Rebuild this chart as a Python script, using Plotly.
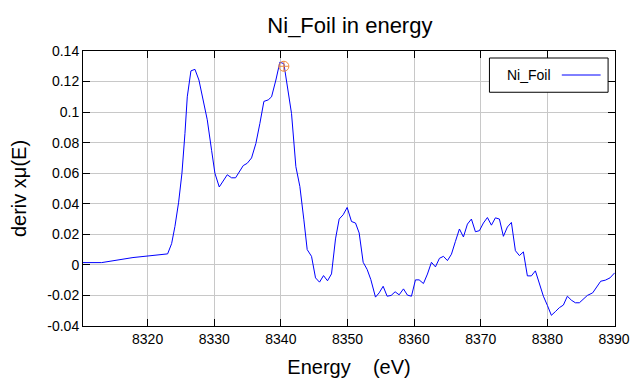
import plotly.graph_objects as go

energy = [8310.3, 8313.1, 8317.8, 8323.0, 8323.6, 8324.1, 8324.65, 8325.15, 8325.6, 8325.95,
          8326.5, 8327.1, 8327.7, 8328.35, 8328.95, 8329.6, 8330.1, 8330.75, 8331.95, 8332.6,
          8333.2, 8334.35, 8334.95, 8335.6, 8336.25, 8336.85, 8337.45, 8338.1, 8338.6, 8339.25,
          8339.85, 8340.45, 8340.95, 8341.6, 8342.25, 8342.85, 8343.45, 8343.95, 8344.6, 8345.2,
          8345.8, 8346.4, 8347.0, 8347.6, 8348.2, 8348.75, 8349.35, 8349.95, 8350.6, 8351.2,
          8351.75, 8352.35, 8352.95, 8353.5, 8354.2, 8354.75, 8355.35, 8355.95, 8356.55, 8357.15,
          8357.75, 8358.4, 8359.0, 8359.6, 8360.2, 8360.75, 8361.4, 8362.0, 8362.6, 8363.2,
          8363.8, 8364.4, 8365.0, 8365.6, 8366.2, 8366.8, 8367.4, 8368.0, 8368.6, 8369.2,
          8369.8, 8370.4, 8371.0, 8371.6, 8372.2, 8372.8, 8373.4, 8374.0, 8374.6, 8375.2,
          8375.8, 8376.4, 8377.0, 8377.6, 8378.2, 8378.8, 8379.4, 8380.0, 8380.6, 8381.2,
          8381.8, 8382.4, 8383.0, 8383.6, 8384.2, 8384.8, 8385.4, 8386.0, 8386.8, 8387.4,
          8388.0, 8388.7, 8389.4, 8390.1]

deriv = [0.0015, 0.0015, 0.0048, 0.0072, 0.0139, 0.0252, 0.041, 0.060, 0.086, 0.110,
         0.127, 0.128, 0.121, 0.108, 0.095, 0.075, 0.060, 0.051, 0.059, 0.057,
         0.057, 0.065, 0.0665, 0.070, 0.0795, 0.0926, 0.107, 0.108, 0.110, 0.121,
         0.1327, 0.1317, 0.1187, 0.099, 0.0643, 0.0513, 0.0295, 0.010, 0.0056, -0.0085,
         -0.0113, -0.007, -0.0104, -0.0059, 0.017, 0.030, 0.0328, 0.0376, 0.0284, 0.0274,
         0.0209, 0.0017, -0.003, -0.0096, -0.0211, -0.0183, -0.014, -0.0205, -0.020, -0.0176,
         -0.0196, -0.0157, -0.0198, -0.0205, -0.0098, -0.0098, -0.0122, -0.006, 0.0017, -0.0013,
         0.0043, 0.0056, 0.0028, 0.007, 0.0154, 0.0235, 0.0183, 0.0267, 0.030, 0.0217,
         0.0224, 0.0274, 0.031, 0.026, 0.0308, 0.030, 0.0187, 0.0248, 0.0278, 0.0093,
         0.0061, 0.0085, -0.0072, -0.0072, -0.0039, -0.0117, -0.0205, -0.0265, -0.033, -0.0306,
         -0.028, -0.0263, -0.0205, -0.0231, -0.0248, -0.0248, -0.0226, -0.020, -0.0183, -0.0144,
         -0.0107, -0.010, -0.0085, -0.0052]

marker_x = [8340.45]
marker_y = [0.130]

x_ticks = [8320, 8330, 8340, 8350, 8360, 8370, 8380, 8390]
y_ticks = [0.14, 0.12, 0.1, 0.08, 0.06, 0.04, 0.02, 0, -0.02, -0.04]
y_tick_labels = ["0.14", "0.12", "0.1", "0.08", "0.06", "0.04", "0.02", "0", "-0.02", "-0.04"]

FONT = "Liberation Sans, Arial, sans-serif"

fig = go.Figure()
fig.add_trace(go.Scatter(x=energy, y=deriv, mode="lines", name="Ni_Foil",
                         line=dict(color="#0000ff", width=1), showlegend=False))
fig.add_trace(go.Scatter(x=marker_x, y=marker_y, mode="markers", showlegend=False,
                         marker=dict(symbol="circle-cross-open", size=10,
                                     color="#f08c3c", line=dict(width=1))))

axis_common = dict(showline=True, linecolor="black", linewidth=1, mirror="ticks",
                   ticks="inside", ticklen=7, tickcolor="black", tickwidth=1,
                   showgrid=True, gridcolor="#c8c8c8", gridwidth=1, zeroline=False,
                   automargin=False,
                   tickfont=dict(family=FONT, size=14, color="black"))

fig.update_xaxes(range=[8310.3, 8390.15], tickvals=x_ticks,
                 title=dict(text="Energy\u00a0\u00a0\u00a0\u00a0(eV)",
                            font=dict(family=FONT, size=20, color="black"), standoff=14),
                 **axis_common)
fig.update_yaxes(range=[-0.04, 0.14], tickvals=y_ticks, ticktext=y_tick_labels,
                 title=dict(text="deriv xμ(E)",
                            font=dict(family=FONT, size=20, color="black"), standoff=20),
                 **axis_common)

# legend box drawn manually (line sample on the right, as in the reference)
fig.add_shape(type="rect", xref="paper", yref="paper", x0=0.764, x1=0.987, y0=0.85, y1=0.9745,
              line=dict(color="black", width=1), fillcolor="white", layer="above")
fig.add_shape(type="line", xref="paper", yref="paper", x0=0.900, x1=0.973, y0=0.9127, y1=0.9127,
              line=dict(color="#0000ff", width=1), layer="above")
fig.add_annotation(xref="paper", yref="paper", x=0.838, y=0.9127, text="Ni_Foil",
                   showarrow=False, xanchor="center", yanchor="middle",
                   font=dict(family=FONT, size=14, color="black"))

# page body has an 8px margin; size the figure so the plot lands where the reference has it
fig.update_layout(
    width=632, height=376,
    margin=dict(l=75, r=25, t=43, b=58),
    paper_bgcolor="white", plot_bgcolor="white",
    title=dict(text="Ni_Foil in energy", x=0.541, xanchor="center", y=0.955, yanchor="middle",
               font=dict(family=FONT, size=22, color="black")),
)

fig.write_html("out.html")
